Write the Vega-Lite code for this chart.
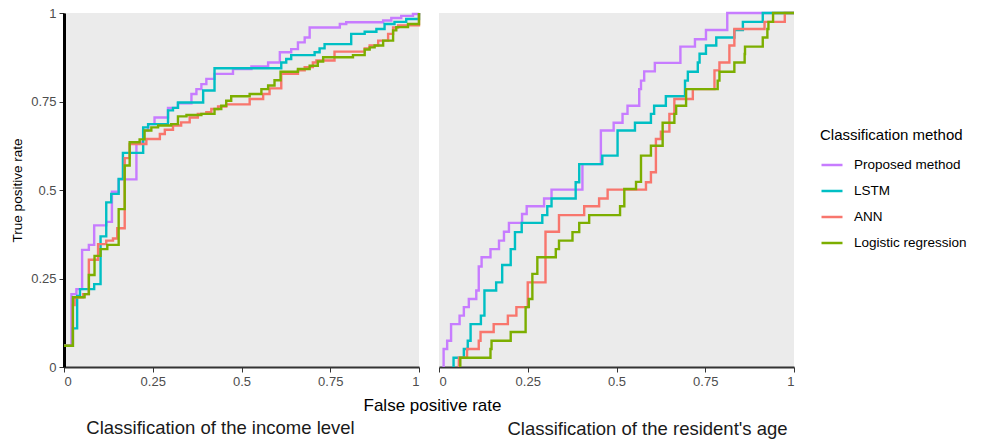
{
  "$schema": "https://vega.github.io/schema/vega-lite/v6.json",
  "background": "white",
  "padding": {"left": 10, "top": 7, "right": 10, "bottom": 4},
  "bounds": "flush",
  "config": {
    "font": "Liberation Sans",
    "view": {"fill": "#EBEBEB", "stroke": null},
    "axis": {"grid": false, "labelColor": "#4D4D4D", "labelFontSize": 13, "tickColor": "#333333", "tickSize": 5, "tickWidth": 1, "domainColor": "#333333", "domainWidth": 2, "labelPadding": 3, "titleFontWeight": "normal", "titleColor": "black"},
    "concat": {"spacing": 20},
    "legend": {"titleFontSize": 15, "titleFontWeight": "normal", "titleColor": "black", "labelFontSize": 13.5, "labelColor": "black", "symbolType": "stroke", "symbolSize": 441, "symbolStrokeWidth": 2.5, "rowPadding": 7, "labelOffset": 10, "titlePadding": 10}
  },
  "datasets": {
    "roc": [
      {"panel":"income","method":"Proposed method","step":0,"fpr":0,"tpr":0.06},
      {"panel":"income","method":"Proposed method","step":1,"fpr":0.021,"tpr":0.206},
      {"panel":"income","method":"Proposed method","step":2,"fpr":0.035,"tpr":0.22},
      {"panel":"income","method":"Proposed method","step":3,"fpr":0.051,"tpr":0.331},
      {"panel":"income","method":"Proposed method","step":4,"fpr":0.07,"tpr":0.345},
      {"panel":"income","method":"Proposed method","step":5,"fpr":0.085,"tpr":0.4},
      {"panel":"income","method":"Proposed method","step":6,"fpr":0.119,"tpr":0.41},
      {"panel":"income","method":"Proposed method","step":7,"fpr":0.135,"tpr":0.495},
      {"panel":"income","method":"Proposed method","step":8,"fpr":0.154,"tpr":0.53},
      {"panel":"income","method":"Proposed method","step":9,"fpr":0.204,"tpr":0.635},
      {"panel":"income","method":"Proposed method","step":10,"fpr":0.223,"tpr":0.668},
      {"panel":"income","method":"Proposed method","step":11,"fpr":0.237,"tpr":0.686},
      {"panel":"income","method":"Proposed method","step":12,"fpr":0.255,"tpr":0.705},
      {"panel":"income","method":"Proposed method","step":13,"fpr":0.293,"tpr":0.732},
      {"panel":"income","method":"Proposed method","step":14,"fpr":0.321,"tpr":0.745},
      {"panel":"income","method":"Proposed method","step":15,"fpr":0.359,"tpr":0.771},
      {"panel":"income","method":"Proposed method","step":16,"fpr":0.373,"tpr":0.785},
      {"panel":"income","method":"Proposed method","step":17,"fpr":0.387,"tpr":0.799},
      {"panel":"income","method":"Proposed method","step":18,"fpr":0.401,"tpr":0.814},
      {"panel":"income","method":"Proposed method","step":19,"fpr":0.424,"tpr":0.828},
      {"panel":"income","method":"Proposed method","step":20,"fpr":0.476,"tpr":0.842},
      {"panel":"income","method":"Proposed method","step":21,"fpr":0.528,"tpr":0.849},
      {"panel":"income","method":"Proposed method","step":22,"fpr":0.575,"tpr":0.86},
      {"panel":"income","method":"Proposed method","step":23,"fpr":0.608,"tpr":0.889},
      {"panel":"income","method":"Proposed method","step":24,"fpr":0.64,"tpr":0.898},
      {"panel":"income","method":"Proposed method","step":25,"fpr":0.659,"tpr":0.917},
      {"panel":"income","method":"Proposed method","step":26,"fpr":0.678,"tpr":0.931},
      {"panel":"income","method":"Proposed method","step":27,"fpr":0.692,"tpr":0.959},
      {"panel":"income","method":"Proposed method","step":28,"fpr":0.777,"tpr":0.969},
      {"panel":"income","method":"Proposed method","step":29,"fpr":0.795,"tpr":0.974},
      {"panel":"income","method":"Proposed method","step":30,"fpr":0.899,"tpr":0.979},
      {"panel":"income","method":"Proposed method","step":31,"fpr":0.922,"tpr":0.986},
      {"panel":"income","method":"Proposed method","step":32,"fpr":0.95,"tpr":0.992},
      {"panel":"income","method":"Proposed method","step":33,"fpr":0.983,"tpr":0.997},
      {"panel":"income","method":"Proposed method","step":34,"fpr":1,"tpr":1},

      {"panel":"income","method":"LSTM","step":0,"fpr":0,"tpr":0.06},
      {"panel":"income","method":"LSTM","step":1,"fpr":0.025,"tpr":0.109},
      {"panel":"income","method":"LSTM","step":2,"fpr":0.037,"tpr":0.201},
      {"panel":"income","method":"LSTM","step":3,"fpr":0.045,"tpr":0.22},
      {"panel":"income","method":"LSTM","step":4,"fpr":0.085,"tpr":0.234},
      {"panel":"income","method":"LSTM","step":5,"fpr":0.103,"tpr":0.369},
      {"panel":"income","method":"LSTM","step":6,"fpr":0.119,"tpr":0.465},
      {"panel":"income","method":"LSTM","step":7,"fpr":0.133,"tpr":0.489},
      {"panel":"income","method":"LSTM","step":8,"fpr":0.154,"tpr":0.531},
      {"panel":"income","method":"LSTM","step":9,"fpr":0.166,"tpr":0.605},
      {"panel":"income","method":"LSTM","step":10,"fpr":0.223,"tpr":0.677},
      {"panel":"income","method":"LSTM","step":11,"fpr":0.237,"tpr":0.686},
      {"panel":"income","method":"LSTM","step":12,"fpr":0.293,"tpr":0.725},
      {"panel":"income","method":"LSTM","step":13,"fpr":0.307,"tpr":0.732},
      {"panel":"income","method":"LSTM","step":14,"fpr":0.321,"tpr":0.747},
      {"panel":"income","method":"LSTM","step":15,"fpr":0.392,"tpr":0.781},
      {"panel":"income","method":"LSTM","step":16,"fpr":0.424,"tpr":0.844},
      {"panel":"income","method":"LSTM","step":17,"fpr":0.612,"tpr":0.86},
      {"panel":"income","method":"LSTM","step":18,"fpr":0.626,"tpr":0.87},
      {"panel":"income","method":"LSTM","step":19,"fpr":0.64,"tpr":0.881},
      {"panel":"income","method":"LSTM","step":20,"fpr":0.706,"tpr":0.889},
      {"panel":"income","method":"LSTM","step":21,"fpr":0.72,"tpr":0.9},
      {"panel":"income","method":"LSTM","step":22,"fpr":0.734,"tpr":0.912},
      {"panel":"income","method":"LSTM","step":23,"fpr":0.809,"tpr":0.941},
      {"panel":"income","method":"LSTM","step":24,"fpr":0.847,"tpr":0.947},
      {"panel":"income","method":"LSTM","step":25,"fpr":0.88,"tpr":0.955},
      {"panel":"income","method":"LSTM","step":26,"fpr":0.903,"tpr":0.969},
      {"panel":"income","method":"LSTM","step":27,"fpr":0.931,"tpr":0.975},
      {"panel":"income","method":"LSTM","step":28,"fpr":0.964,"tpr":0.983},
      {"panel":"income","method":"LSTM","step":29,"fpr":1,"tpr":1},

      {"panel":"income","method":"ANN","step":0,"fpr":0,"tpr":0.06},
      {"panel":"income","method":"ANN","step":1,"fpr":0.025,"tpr":0.175},
      {"panel":"income","method":"ANN","step":2,"fpr":0.03,"tpr":0.197},
      {"panel":"income","method":"ANN","step":3,"fpr":0.054,"tpr":0.206},
      {"panel":"income","method":"ANN","step":4,"fpr":0.07,"tpr":0.303},
      {"panel":"income","method":"ANN","step":5,"fpr":0.096,"tpr":0.347},
      {"panel":"income","method":"ANN","step":6,"fpr":0.119,"tpr":0.357},
      {"panel":"income","method":"ANN","step":7,"fpr":0.138,"tpr":0.363},
      {"panel":"income","method":"ANN","step":8,"fpr":0.15,"tpr":0.392},
      {"panel":"income","method":"ANN","step":9,"fpr":0.171,"tpr":0.59},
      {"panel":"income","method":"ANN","step":10,"fpr":0.185,"tpr":0.63},
      {"panel":"income","method":"ANN","step":11,"fpr":0.232,"tpr":0.644},
      {"panel":"income","method":"ANN","step":12,"fpr":0.27,"tpr":0.658},
      {"panel":"income","method":"ANN","step":13,"fpr":0.284,"tpr":0.67},
      {"panel":"income","method":"ANN","step":14,"fpr":0.307,"tpr":0.682},
      {"panel":"income","method":"ANN","step":15,"fpr":0.33,"tpr":0.691},
      {"panel":"income","method":"ANN","step":16,"fpr":0.354,"tpr":0.705},
      {"panel":"income","method":"ANN","step":17,"fpr":0.377,"tpr":0.715},
      {"panel":"income","method":"ANN","step":18,"fpr":0.401,"tpr":0.72},
      {"panel":"income","method":"ANN","step":19,"fpr":0.415,"tpr":0.729},
      {"panel":"income","method":"ANN","step":20,"fpr":0.434,"tpr":0.736},
      {"panel":"income","method":"ANN","step":21,"fpr":0.457,"tpr":0.742},
      {"panel":"income","method":"ANN","step":22,"fpr":0.523,"tpr":0.757},
      {"panel":"income","method":"ANN","step":23,"fpr":0.561,"tpr":0.771},
      {"panel":"income","method":"ANN","step":24,"fpr":0.579,"tpr":0.787},
      {"panel":"income","method":"ANN","step":25,"fpr":0.612,"tpr":0.828},
      {"panel":"income","method":"ANN","step":26,"fpr":0.659,"tpr":0.838},
      {"panel":"income","method":"ANN","step":27,"fpr":0.678,"tpr":0.847},
      {"panel":"income","method":"ANN","step":28,"fpr":0.701,"tpr":0.86},
      {"panel":"income","method":"ANN","step":29,"fpr":0.711,"tpr":0.866},
      {"panel":"income","method":"ANN","step":30,"fpr":0.762,"tpr":0.891},
      {"panel":"income","method":"ANN","step":31,"fpr":0.847,"tpr":0.9},
      {"panel":"income","method":"ANN","step":32,"fpr":0.861,"tpr":0.908},
      {"panel":"income","method":"ANN","step":33,"fpr":0.885,"tpr":0.922},
      {"panel":"income","method":"ANN","step":34,"fpr":0.913,"tpr":0.941},
      {"panel":"income","method":"ANN","step":35,"fpr":0.927,"tpr":0.959},
      {"panel":"income","method":"ANN","step":36,"fpr":0.941,"tpr":0.965},
      {"panel":"income","method":"ANN","step":37,"fpr":1,"tpr":1},

      {"panel":"income","method":"Logistic regression","step":0,"fpr":0,"tpr":0.06},
      {"panel":"income","method":"Logistic regression","step":1,"fpr":0.025,"tpr":0.197},
      {"panel":"income","method":"Logistic regression","step":2,"fpr":0.058,"tpr":0.206},
      {"panel":"income","method":"Logistic regression","step":3,"fpr":0.07,"tpr":0.26},
      {"panel":"income","method":"Logistic regression","step":4,"fpr":0.086,"tpr":0.314},
      {"panel":"income","method":"Logistic regression","step":5,"fpr":0.103,"tpr":0.333},
      {"panel":"income","method":"Logistic regression","step":6,"fpr":0.122,"tpr":0.345},
      {"panel":"income","method":"Logistic regression","step":7,"fpr":0.154,"tpr":0.446},
      {"panel":"income","method":"Logistic regression","step":8,"fpr":0.171,"tpr":0.569},
      {"panel":"income","method":"Logistic regression","step":9,"fpr":0.185,"tpr":0.635},
      {"panel":"income","method":"Logistic regression","step":10,"fpr":0.213,"tpr":0.643},
      {"panel":"income","method":"Logistic regression","step":11,"fpr":0.227,"tpr":0.668},
      {"panel":"income","method":"Logistic regression","step":12,"fpr":0.246,"tpr":0.677},
      {"panel":"income","method":"Logistic regression","step":13,"fpr":0.265,"tpr":0.682},
      {"panel":"income","method":"Logistic regression","step":14,"fpr":0.302,"tpr":0.686},
      {"panel":"income","method":"Logistic regression","step":15,"fpr":0.321,"tpr":0.708},
      {"panel":"income","method":"Logistic regression","step":16,"fpr":0.345,"tpr":0.712},
      {"panel":"income","method":"Logistic regression","step":17,"fpr":0.387,"tpr":0.715},
      {"panel":"income","method":"Logistic regression","step":18,"fpr":0.424,"tpr":0.729},
      {"panel":"income","method":"Logistic regression","step":19,"fpr":0.443,"tpr":0.738},
      {"panel":"income","method":"Logistic regression","step":20,"fpr":0.457,"tpr":0.752},
      {"panel":"income","method":"Logistic regression","step":21,"fpr":0.471,"tpr":0.765},
      {"panel":"income","method":"Logistic regression","step":22,"fpr":0.523,"tpr":0.771},
      {"panel":"income","method":"Logistic regression","step":23,"fpr":0.556,"tpr":0.785},
      {"panel":"income","method":"Logistic regression","step":24,"fpr":0.575,"tpr":0.795},
      {"panel":"income","method":"Logistic regression","step":25,"fpr":0.593,"tpr":0.81},
      {"panel":"income","method":"Logistic regression","step":26,"fpr":0.61,"tpr":0.834},
      {"panel":"income","method":"Logistic regression","step":27,"fpr":0.659,"tpr":0.842},
      {"panel":"income","method":"Logistic regression","step":28,"fpr":0.692,"tpr":0.851},
      {"panel":"income","method":"Logistic regression","step":29,"fpr":0.715,"tpr":0.863},
      {"panel":"income","method":"Logistic regression","step":30,"fpr":0.73,"tpr":0.875},
      {"panel":"income","method":"Logistic regression","step":31,"fpr":0.814,"tpr":0.881},
      {"panel":"income","method":"Logistic regression","step":32,"fpr":0.847,"tpr":0.897},
      {"panel":"income","method":"Logistic regression","step":33,"fpr":0.861,"tpr":0.903},
      {"panel":"income","method":"Logistic regression","step":34,"fpr":0.875,"tpr":0.908},
      {"panel":"income","method":"Logistic regression","step":35,"fpr":0.899,"tpr":0.922},
      {"panel":"income","method":"Logistic regression","step":36,"fpr":0.927,"tpr":0.951},
      {"panel":"income","method":"Logistic regression","step":37,"fpr":0.936,"tpr":0.96},
      {"panel":"income","method":"Logistic regression","step":38,"fpr":0.969,"tpr":0.969},
      {"panel":"income","method":"Logistic regression","step":39,"fpr":1,"tpr":1},

      {"panel":"age","method":"Proposed method","step":0,"fpr":0.013,"tpr":0},
      {"panel":"age","method":"Proposed method","step":1,"fpr":0.013,"tpr":0.051},
      {"panel":"age","method":"Proposed method","step":2,"fpr":0.023,"tpr":0.074},
      {"panel":"age","method":"Proposed method","step":3,"fpr":0.034,"tpr":0.121},
      {"panel":"age","method":"Proposed method","step":4,"fpr":0.058,"tpr":0.145},
      {"panel":"age","method":"Proposed method","step":5,"fpr":0.07,"tpr":0.169},
      {"panel":"age","method":"Proposed method","step":6,"fpr":0.084,"tpr":0.192},
      {"panel":"age","method":"Proposed method","step":7,"fpr":0.105,"tpr":0.216},
      {"panel":"age","method":"Proposed method","step":8,"fpr":0.112,"tpr":0.284},
      {"panel":"age","method":"Proposed method","step":9,"fpr":0.12,"tpr":0.31},
      {"panel":"age","method":"Proposed method","step":10,"fpr":0.145,"tpr":0.333},
      {"panel":"age","method":"Proposed method","step":11,"fpr":0.169,"tpr":0.357},
      {"panel":"age","method":"Proposed method","step":12,"fpr":0.183,"tpr":0.382},
      {"panel":"age","method":"Proposed method","step":13,"fpr":0.197,"tpr":0.407},
      {"panel":"age","method":"Proposed method","step":14,"fpr":0.234,"tpr":0.432},
      {"panel":"age","method":"Proposed method","step":15,"fpr":0.247,"tpr":0.454},
      {"panel":"age","method":"Proposed method","step":16,"fpr":0.296,"tpr":0.476},
      {"panel":"age","method":"Proposed method","step":17,"fpr":0.317,"tpr":0.501},
      {"panel":"age","method":"Proposed method","step":18,"fpr":0.404,"tpr":0.573},
      {"panel":"age","method":"Proposed method","step":19,"fpr":0.456,"tpr":0.668},
      {"panel":"age","method":"Proposed method","step":20,"fpr":0.492,"tpr":0.69},
      {"panel":"age","method":"Proposed method","step":21,"fpr":0.517,"tpr":0.715},
      {"panel":"age","method":"Proposed method","step":22,"fpr":0.531,"tpr":0.738},
      {"panel":"age","method":"Proposed method","step":23,"fpr":0.564,"tpr":0.785},
      {"panel":"age","method":"Proposed method","step":24,"fpr":0.569,"tpr":0.809},
      {"panel":"age","method":"Proposed method","step":25,"fpr":0.578,"tpr":0.835},
      {"panel":"age","method":"Proposed method","step":26,"fpr":0.608,"tpr":0.859},
      {"panel":"age","method":"Proposed method","step":27,"fpr":0.68,"tpr":0.905},
      {"panel":"age","method":"Proposed method","step":28,"fpr":0.721,"tpr":0.926},
      {"panel":"age","method":"Proposed method","step":29,"fpr":0.752,"tpr":0.952},
      {"panel":"age","method":"Proposed method","step":30,"fpr":0.812,"tpr":1},
      {"panel":"age","method":"Proposed method","step":31,"fpr":1,"tpr":1},

      {"panel":"age","method":"LSTM","step":0,"fpr":0.041,"tpr":0},
      {"panel":"age","method":"LSTM","step":1,"fpr":0.041,"tpr":0.026},
      {"panel":"age","method":"LSTM","step":2,"fpr":0.07,"tpr":0.051},
      {"panel":"age","method":"LSTM","step":3,"fpr":0.081,"tpr":0.074},
      {"panel":"age","method":"LSTM","step":4,"fpr":0.089,"tpr":0.121},
      {"panel":"age","method":"LSTM","step":5,"fpr":0.118,"tpr":0.145},
      {"panel":"age","method":"LSTM","step":6,"fpr":0.128,"tpr":0.216},
      {"panel":"age","method":"LSTM","step":7,"fpr":0.161,"tpr":0.239},
      {"panel":"age","method":"LSTM","step":8,"fpr":0.178,"tpr":0.288},
      {"panel":"age","method":"LSTM","step":9,"fpr":0.202,"tpr":0.333},
      {"panel":"age","method":"LSTM","step":10,"fpr":0.214,"tpr":0.381},
      {"panel":"age","method":"LSTM","step":11,"fpr":0.233,"tpr":0.407},
      {"panel":"age","method":"LSTM","step":12,"fpr":0.291,"tpr":0.429},
      {"panel":"age","method":"LSTM","step":13,"fpr":0.305,"tpr":0.454},
      {"panel":"age","method":"LSTM","step":14,"fpr":0.317,"tpr":0.476},
      {"panel":"age","method":"LSTM","step":15,"fpr":0.385,"tpr":0.522},
      {"panel":"age","method":"LSTM","step":16,"fpr":0.395,"tpr":0.573},
      {"panel":"age","method":"LSTM","step":17,"fpr":0.46,"tpr":0.597},
      {"panel":"age","method":"LSTM","step":18,"fpr":0.503,"tpr":0.668},
      {"panel":"age","method":"LSTM","step":19,"fpr":0.552,"tpr":0.69},
      {"panel":"age","method":"LSTM","step":20,"fpr":0.597,"tpr":0.715},
      {"panel":"age","method":"LSTM","step":21,"fpr":0.606,"tpr":0.738},
      {"panel":"age","method":"LSTM","step":22,"fpr":0.639,"tpr":0.765},
      {"panel":"age","method":"LSTM","step":23,"fpr":0.693,"tpr":0.809},
      {"panel":"age","method":"LSTM","step":24,"fpr":0.701,"tpr":0.834},
      {"panel":"age","method":"LSTM","step":25,"fpr":0.729,"tpr":0.86},
      {"panel":"age","method":"LSTM","step":26,"fpr":0.734,"tpr":0.885},
      {"panel":"age","method":"LSTM","step":27,"fpr":0.752,"tpr":0.908},
      {"panel":"age","method":"LSTM","step":28,"fpr":0.781,"tpr":0.931},
      {"panel":"age","method":"LSTM","step":29,"fpr":0.832,"tpr":0.952},
      {"panel":"age","method":"LSTM","step":30,"fpr":0.856,"tpr":0.975},
      {"panel":"age","method":"LSTM","step":31,"fpr":0.912,"tpr":1},
      {"panel":"age","method":"LSTM","step":32,"fpr":1,"tpr":1},

      {"panel":"age","method":"ANN","step":0,"fpr":0.056,"tpr":0},
      {"panel":"age","method":"ANN","step":1,"fpr":0.056,"tpr":0.026},
      {"panel":"age","method":"ANN","step":2,"fpr":0.079,"tpr":0.051},
      {"panel":"age","method":"ANN","step":3,"fpr":0.112,"tpr":0.074},
      {"panel":"age","method":"ANN","step":4,"fpr":0.117,"tpr":0.099},
      {"panel":"age","method":"ANN","step":5,"fpr":0.154,"tpr":0.121},
      {"panel":"age","method":"ANN","step":6,"fpr":0.194,"tpr":0.145},
      {"panel":"age","method":"ANN","step":7,"fpr":0.218,"tpr":0.169},
      {"panel":"age","method":"ANN","step":8,"fpr":0.25,"tpr":0.239},
      {"panel":"age","method":"ANN","step":9,"fpr":0.3,"tpr":0.382},
      {"panel":"age","method":"ANN","step":10,"fpr":0.338,"tpr":0.429},
      {"panel":"age","method":"ANN","step":11,"fpr":0.409,"tpr":0.454},
      {"panel":"age","method":"ANN","step":12,"fpr":0.451,"tpr":0.476},
      {"panel":"age","method":"ANN","step":13,"fpr":0.475,"tpr":0.501},
      {"panel":"age","method":"ANN","step":14,"fpr":0.583,"tpr":0.522},
      {"panel":"age","method":"ANN","step":15,"fpr":0.597,"tpr":0.55},
      {"panel":"age","method":"ANN","step":16,"fpr":0.611,"tpr":0.644},
      {"panel":"age","method":"ANN","step":17,"fpr":0.625,"tpr":0.665},
      {"panel":"age","method":"ANN","step":18,"fpr":0.649,"tpr":0.715},
      {"panel":"age","method":"ANN","step":19,"fpr":0.663,"tpr":0.757},
      {"panel":"age","method":"ANN","step":20,"fpr":0.715,"tpr":0.785},
      {"panel":"age","method":"ANN","step":21,"fpr":0.776,"tpr":0.838},
      {"panel":"age","method":"ANN","step":22,"fpr":0.79,"tpr":0.86},
      {"panel":"age","method":"ANN","step":23,"fpr":0.818,"tpr":0.908},
      {"panel":"age","method":"ANN","step":24,"fpr":0.832,"tpr":0.955},
      {"panel":"age","method":"ANN","step":25,"fpr":0.917,"tpr":0.975},
      {"panel":"age","method":"ANN","step":26,"fpr":0.974,"tpr":1},
      {"panel":"age","method":"ANN","step":27,"fpr":1,"tpr":1},

      {"panel":"age","method":"Logistic regression","step":0,"fpr":0.06,"tpr":0},
      {"panel":"age","method":"Logistic regression","step":1,"fpr":0.06,"tpr":0.026},
      {"panel":"age","method":"Logistic regression","step":2,"fpr":0.145,"tpr":0.051},
      {"panel":"age","method":"Logistic regression","step":3,"fpr":0.148,"tpr":0.074},
      {"panel":"age","method":"Logistic regression","step":4,"fpr":0.202,"tpr":0.099},
      {"panel":"age","method":"Logistic regression","step":5,"fpr":0.244,"tpr":0.169},
      {"panel":"age","method":"Logistic regression","step":6,"fpr":0.253,"tpr":0.192},
      {"panel":"age","method":"Logistic regression","step":7,"fpr":0.263,"tpr":0.263},
      {"panel":"age","method":"Logistic regression","step":8,"fpr":0.277,"tpr":0.31},
      {"panel":"age","method":"Logistic regression","step":9,"fpr":0.329,"tpr":0.333},
      {"panel":"age","method":"Logistic regression","step":10,"fpr":0.338,"tpr":0.357},
      {"panel":"age","method":"Logistic regression","step":11,"fpr":0.376,"tpr":0.381},
      {"panel":"age","method":"Logistic regression","step":12,"fpr":0.395,"tpr":0.407},
      {"panel":"age","method":"Logistic regression","step":13,"fpr":0.423,"tpr":0.429},
      {"panel":"age","method":"Logistic regression","step":14,"fpr":0.51,"tpr":0.454},
      {"panel":"age","method":"Logistic regression","step":15,"fpr":0.522,"tpr":0.503},
      {"panel":"age","method":"Logistic regression","step":16,"fpr":0.555,"tpr":0.523},
      {"panel":"age","method":"Logistic regression","step":17,"fpr":0.569,"tpr":0.597},
      {"panel":"age","method":"Logistic regression","step":18,"fpr":0.597,"tpr":0.625},
      {"panel":"age","method":"Logistic regression","step":19,"fpr":0.63,"tpr":0.69},
      {"panel":"age","method":"Logistic regression","step":20,"fpr":0.663,"tpr":0.715},
      {"panel":"age","method":"Logistic regression","step":21,"fpr":0.668,"tpr":0.738},
      {"panel":"age","method":"Logistic regression","step":22,"fpr":0.696,"tpr":0.785},
      {"panel":"age","method":"Logistic regression","step":23,"fpr":0.785,"tpr":0.809},
      {"panel":"age","method":"Logistic regression","step":24,"fpr":0.79,"tpr":0.834},
      {"panel":"age","method":"Logistic regression","step":25,"fpr":0.832,"tpr":0.86},
      {"panel":"age","method":"Logistic regression","step":26,"fpr":0.861,"tpr":0.884},
      {"panel":"age","method":"Logistic regression","step":27,"fpr":0.862,"tpr":0.905},
      {"panel":"age","method":"Logistic regression","step":28,"fpr":0.912,"tpr":0.931},
      {"panel":"age","method":"Logistic regression","step":29,"fpr":0.925,"tpr":0.955},
      {"panel":"age","method":"Logistic regression","step":30,"fpr":0.928,"tpr":0.975},
      {"panel":"age","method":"Logistic regression","step":31,"fpr":0.941,"tpr":1},
      {"panel":"age","method":"Logistic regression","step":32,"fpr":1,"tpr":1}
    ]
  },
  "hconcat": [
    {
      "width": 355,
      "height": 354,
      "data": {"name": "roc"},
      "transform": [{"filter": "datum.panel == 'income'"}],
      "title": {"text": "Classification of the income level", "orient": "bottom", "anchor": "middle", "frame": "group", "fontSize": 18.5, "fontWeight": "normal", "color": "#1A1A1A", "dx": -21, "offset": 6},
      "mark": {"type": "line", "interpolate": "step-after", "strokeWidth": 2.4},
      "encoding": {
        "x": {"field": "fpr", "type": "quantitative", "scale": {"domain": [0, 1], "nice": false, "zero": false},
              "axis": {"values": [0, 0.25, 0.5, 0.75, 1], "labelExpr": "'' + datum.value", "title": "False positive rate", "titleFontSize": 17, "titleX": 368, "titleAlign": "center", "titlePadding": 9}},
        "y": {"field": "tpr", "type": "quantitative", "scale": {"domain": [0, 1], "nice": false, "zero": false},
              "axis": {"values": [0, 0.25, 0.5, 0.75, 1], "labelExpr": "'' + datum.value", "title": "True positive rate", "titleFontSize": 13.5, "titlePadding": 6, "domainColor": "black", "domainWidth": 3}},
        "color": {"field": "method", "type": "nominal",
                  "scale": {"domain": ["Proposed method", "LSTM", "ANN", "Logistic regression"], "range": ["#C77CFF", "#00BFC4", "#F8766D", "#7CAE00"]},
                  "legend": {"title": "Classification method", "orient": "none", "legendX": 756, "legendY": 115}},
        "order": {"field": "step", "type": "quantitative"}
      }
    },
    {
      "width": 355,
      "height": 354,
      "data": {"name": "roc"},
      "transform": [{"filter": "datum.panel == 'age'"}],
      "title": {"text": "Classification of the resident's age", "orient": "bottom", "anchor": "middle", "frame": "group", "fontSize": 18.5, "fontWeight": "normal", "color": "#1A1A1A", "dx": 31, "offset": 32},
      "mark": {"type": "line", "interpolate": "step-after", "strokeWidth": 2.4},
      "encoding": {
        "x": {"field": "fpr", "type": "quantitative", "scale": {"domain": [0, 1], "nice": false, "zero": false},
              "axis": {"values": [0, 0.25, 0.5, 0.75, 1], "labelExpr": "'' + datum.value", "title": null}},
        "y": {"field": "tpr", "type": "quantitative", "scale": {"domain": [0, 1], "nice": false, "zero": false}, "axis": null},
        "color": {"field": "method", "type": "nominal",
                  "scale": {"domain": ["Proposed method", "LSTM", "ANN", "Logistic regression"], "range": ["#C77CFF", "#00BFC4", "#F8766D", "#7CAE00"]},
                  "legend": {"title": "Classification method", "orient": "none", "legendX": 756, "legendY": 115}},
        "order": {"field": "step", "type": "quantitative"}
      }
    }
  ]
}
